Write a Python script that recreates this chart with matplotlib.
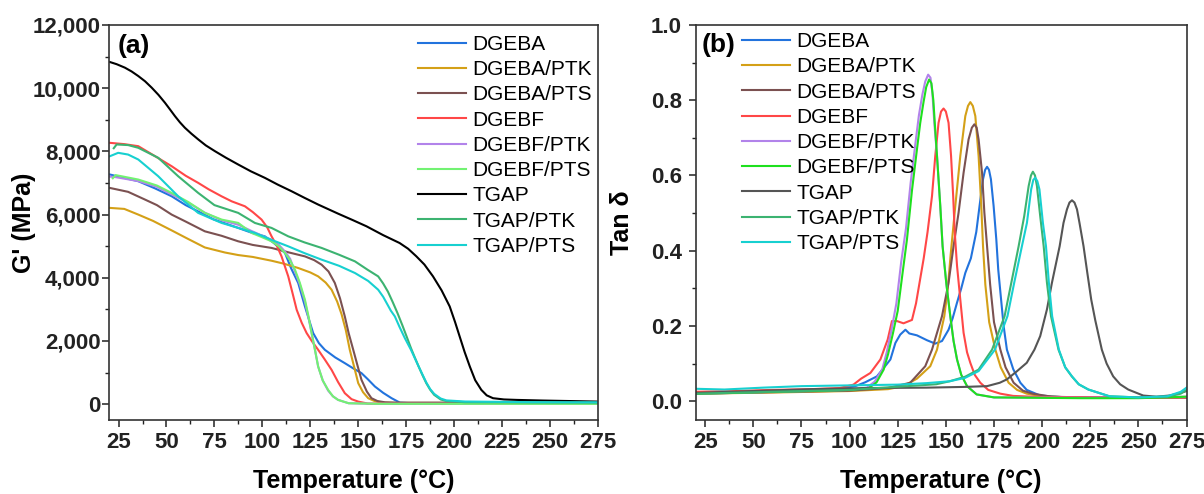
import matplotlib
matplotlib.use("Agg")
import matplotlib.pyplot as plt
from matplotlib.ticker import FuncFormatter, AutoMinorLocator
from matplotlib.font_manager import FontProperties

plt.rcParams['font.family'] = ['Liberation Sans', 'DejaVu Sans']

labels = ["DGEBA", "DGEBA/PTK", "DGEBA/PTS", "DGEBF", "DGEBF/PTK", "DGEBF/PTS",
          "TGAP", "TGAP/PTK", "TGAP/PTS"]
colors_a = ["#2273dd", "#d4a017", "#7b5151", "#ff4747", "#b283ea", "#72f272",
            "#000000", "#3cb371", "#17d0d0"]
colors_b = ["#2273dd", "#d4a017", "#7b5151", "#ff4747", "#b283ea", "#1ee01e",
            "#555555", "#3cb371", "#17d0d0"]

# ---------------- (a) storage modulus G' (MPa) ----------------
dgeba_T = [20.5, 35.3, 44, 52.7, 60, 66.5, 74.5, 87.4, 94.7, 101.3, 106, 111.8, 115, 118.7,
           122.2, 126.5, 129.5, 132.6, 138, 143, 147.5, 151.7, 155, 158.7, 163, 167.4,
           171.7, 178, 220, 275]
dgeba_G = [7268, 7056, 6830, 6580, 6300, 6100, 5850, 5578, 5420, 5312, 5100, 4785, 4300,
           3835, 3094, 2250, 1930, 1721, 1480, 1299, 1130, 983, 790, 560, 360, 190, 50, 30,
           30, 30]

dgeba_ptk_T = [20.5, 28, 35.3, 43, 52.7, 60.3, 70, 80.5, 87.4, 95, 104.8, 111, 118.7, 125,
               129.1, 133, 136.1, 139, 141.3, 143.5, 145.6, 148, 150, 152.5, 155.2, 158.5,
               162.2, 170, 220, 275]
dgeba_ptk_G = [6212, 6180, 6000, 5800, 5500, 5260, 4960, 4800, 4720, 4660, 4540, 4450, 4310,
               4170, 4045, 3850, 3623, 3250, 2850, 2350, 1721, 1150, 666, 380, 190, 100,
               50, 40, 40, 40]

dgeba_pts_T = [20.3, 30, 38.8, 45, 52.7, 60, 70, 78.7, 87.4, 95, 104.8, 114, 122.2, 127,
               130.9, 134.5, 137.8, 140.5, 143, 145, 147.4, 149.5, 151.7, 154.5, 156.9,
               160, 164, 170, 220, 275]
dgeba_pts_G = [6846, 6720, 6475, 6300, 6000, 5780, 5471, 5330, 5155, 5040, 4945, 4800,
               4678, 4560, 4415, 4200, 3835, 3350, 2778, 2250, 1721, 1250, 770, 400, 190,
               100, 60, 50, 50, 50]

dgebf_T = [20.3, 28, 35.3, 44, 52.7, 60, 66.5, 72, 78.7, 84, 90.9, 95, 99.6, 102.5, 104.8,
           107.5, 110, 113.5, 115.8, 117.9, 120.5, 123.1, 126, 129.1, 132.5, 136.1, 139.5,
           143, 146.5, 150, 155, 170, 215]
dgebf_G = [8272, 8230, 8165, 7850, 7531, 7230, 7005, 6800, 6580, 6420, 6263, 6080, 5841,
           5600, 5312, 5020, 4678, 4045, 3500, 2989, 2580, 2250, 1980, 1721, 1420, 1087,
           700, 349, 160, 82, 20, 15, 15]

dgebf_ptk_T = [20.5, 23, 35.3, 45, 52.7, 61.3, 70, 78.8, 87.4, 94.4, 100, 104.8, 108.5,
               111.8, 114.5, 117, 119.5, 122.2, 124, 125.7, 127.5, 129.1, 131.5, 134.3,
               136.8, 139.5, 145, 160, 275]
dgebf_ptk_G = [7200, 7190, 7060, 6880, 6640, 6380, 6060, 5820, 5680, 5480, 5330, 5200, 5050,
               4830, 4600, 4200, 3800, 3250, 2750, 2250, 1700, 1192, 750, 430, 250, 136,
               30, 12, 10]

dgebf_pts_T = [22, 23.5, 35.3, 45, 52.7, 61.3, 70, 78.8, 87.4, 94.4, 100, 104.8, 108.5,
               111.8, 114.5, 117, 119.5, 122.2, 124, 125.7, 127.5, 129.1, 131.5, 134.3,
               136.8, 139.5, 145, 160, 275]
dgebf_pts_G = [7150, 7250, 7109, 6920, 6686, 6400, 6054, 5841, 5737, 5420, 5280, 5155,
               5000, 4785, 4550, 4257, 3850, 3306, 2800, 2250, 1700, 1192, 750, 453, 250,
               136, 30, 12, 10]

tgap_T = [20.5, 24, 28.3, 31.8, 35.3, 38.8, 42.3, 45.8, 49.2, 51.8, 54.4, 57, 59.6, 63,
          66.6, 70.5, 75.3, 81, 87.4, 94, 101.3, 108, 115.2, 122, 129.1, 139.5, 147, 154.3,
          163, 171.6, 176, 180.3, 184.5, 189, 193.5, 197.7, 200.5, 202.9, 205.5, 208.2,
          211, 214.2, 217, 220.3, 226, 232.5, 246, 260, 275]
tgap_G = [10828, 10760, 10650, 10530, 10384, 10220, 10016, 9790, 9540, 9330, 9117, 8920,
          8748, 8560, 8377, 8190, 8006, 7800, 7585, 7370, 7163, 6950, 6740, 6530, 6318,
          6030, 5830, 5630, 5350, 5100, 4920, 4680, 4420, 4045, 3600, 3094, 2600, 2143,
          1650, 1192, 760, 453, 280, 190, 150, 136, 116, 100, 82]

tgap_ptk_T = [22.5, 24, 30, 35.3, 45.7, 56.1, 66.5, 75, 87.4, 96.1, 104.8, 113.5, 122,
              130.9, 140, 148.3, 155, 160.4, 163, 165.5, 168, 170.5, 173, 175.5, 177.5,
              179.5, 181.5, 183.5, 185.5, 187.5, 189.6, 193, 196, 205.7, 240, 275]
tgap_ptk_G = [8100, 8219, 8200, 8114, 7797, 7214, 6688, 6300, 6054, 5736, 5578, 5312,
              5120, 4945, 4730, 4520, 4250, 4045, 3820, 3560, 3230, 2880, 2500, 2100, 1775,
              1480, 1194, 920, 665, 460, 296, 150, 100, 63, 55, 50]

tgap_pts_T = [20.5, 24.8, 30, 35.3, 45.7, 56.1, 66.5, 78.7, 87.4, 96.1, 104.8, 113.5, 122,
              130.9, 140, 148.3, 155.2, 160.4, 163, 165.3, 167, 169.1, 171.5, 174.3, 177.5,
              181.5, 185.5, 187.5, 189.6, 193, 196, 205.7, 240, 275]
tgap_pts_G = [7848, 7955, 7900, 7743, 7214, 6580, 6054, 5737, 5580, 5420, 5200, 4996,
              4780, 4574, 4380, 4151, 3900, 3623, 3400, 3148, 2960, 2778, 2450, 2092, 1722,
              1194, 687, 480, 327, 180, 120, 85, 65, 60]

Ta = [dgeba_T, dgeba_ptk_T, dgeba_pts_T, dgebf_T, dgebf_ptk_T, dgebf_pts_T, tgap_T,
      tgap_ptk_T, tgap_pts_T]
Ga = [dgeba_G, dgeba_ptk_G, dgeba_pts_G, dgebf_G, dgebf_ptk_G, dgebf_pts_G, tgap_G,
      tgap_ptk_G, tgap_pts_G]

# ---------------- (b) tan delta ----------------
b_dgeba_T = [20, 40, 60, 80, 95, 103, 108, 114.2, 118, 121.2, 123.8, 126.3, 129, 131, 135,
             140.2, 144.5, 148, 151.4, 153.5, 155.8, 158, 160.1, 163, 165.8, 167.5, 169.3,
             170.4, 171.4, 172.4, 173.4, 174.8, 176.2, 177.2, 178.5, 180, 181.7, 185,
             188.7, 192, 199, 210, 240, 275]
b_dgeba_V = [0.022, 0.025, 0.028, 0.03, 0.033, 0.04, 0.05, 0.066, 0.09, 0.111, 0.155,
             0.177, 0.19, 0.18, 0.175, 0.162, 0.153, 0.16, 0.19, 0.22, 0.262, 0.3, 0.341,
             0.38, 0.45, 0.519, 0.59, 0.615, 0.623, 0.615, 0.59, 0.519, 0.43, 0.35, 0.28,
             0.2, 0.137, 0.085, 0.049, 0.03, 0.015, 0.011, 0.01, 0.01]

b_dgeba_ptk_T = [20, 60, 100, 120, 128, 135, 141.9, 145.4, 149.2, 151, 152.5, 154.9, 157.5,
                 160.1, 161.5, 162.7, 164, 165.3, 167, 168.4, 169.3, 170.5, 172.5, 175.7,
                 178.5, 182.6, 187, 192, 200, 210, 275]
b_dgeba_ptk_V = [0.02, 0.023, 0.027, 0.032, 0.04, 0.06, 0.093, 0.137, 0.226, 0.3, 0.39,
                 0.519, 0.652, 0.758, 0.785, 0.795, 0.785, 0.758, 0.652, 0.519, 0.412, 0.31,
                 0.21, 0.137, 0.09, 0.049, 0.03, 0.02, 0.013, 0.011, 0.01]

b_dgeba_pts_T = [20, 60, 100, 120, 131.5, 139.3, 142.8, 148, 151.4, 154, 156.6, 159.2,
                 161.8, 163.5, 164.8, 166, 167, 168.8, 170, 171.4, 173, 175, 178.3, 181,
                 185.2, 190, 195, 205, 220, 275]
b_dgeba_pts_V = [0.02, 0.024, 0.028, 0.035, 0.049, 0.093, 0.137, 0.226, 0.315, 0.412,
                 0.501, 0.607, 0.696, 0.727, 0.736, 0.727, 0.696, 0.607, 0.501, 0.412, 0.31,
                 0.21, 0.137, 0.09, 0.049, 0.028, 0.02, 0.012, 0.01, 0.01]

b_dgebf_T = [20, 40, 60, 80, 95, 102, 106, 110.8, 116, 119.8, 122, 124.6, 128, 132.4,
             134.5, 136.5, 138.5, 140.5, 142.8, 144.5, 146.2, 147.5, 148.8, 150, 151.4,
             152.7, 153.8, 154.6, 155.8, 157.5, 159.2, 161, 162.7, 165, 167.9, 172, 178.3,
             185, 200, 240, 275]
b_dgebf_V = [0.025, 0.027, 0.03, 0.032, 0.035, 0.044, 0.06, 0.075, 0.111, 0.164, 0.213,
             0.213, 0.207, 0.216, 0.26, 0.32, 0.38, 0.45, 0.545, 0.652, 0.74, 0.77, 0.778,
             0.77, 0.74, 0.652, 0.545, 0.45, 0.36, 0.27, 0.182, 0.13, 0.102, 0.07, 0.049,
             0.03, 0.02, 0.014, 0.011, 0.01, 0.01]

b_dgebf_ptk_T = [20, 40, 60, 80, 100, 109, 113, 117, 119.3, 121.8, 124.3, 126.8, 129.3,
                 131.7, 134.3, 136, 137.8, 139.3, 140.8, 142, 143, 144, 145.4, 147.1, 148.3,
                 150.3, 152.3, 154, 155.8, 158, 161, 166, 175, 220, 275]
b_dgebf_ptk_V = [0.02, 0.022, 0.025, 0.027, 0.03, 0.036, 0.052, 0.085, 0.13, 0.19, 0.26,
                 0.37, 0.46, 0.58, 0.69, 0.76, 0.815, 0.85, 0.868, 0.86, 0.82, 0.74, 0.652,
                 0.519, 0.412, 0.31, 0.226, 0.16, 0.111, 0.07, 0.04, 0.018, 0.01, 0.009,
                 0.012]

b_dgebf_pts_T = [20, 40, 60, 80, 100, 110, 114, 117.7, 120, 122.5, 125, 127.5, 129.8,
                 132.4, 135, 136.7, 138.4, 139.8, 141.3, 142.5, 143.5, 144.5, 145.4, 147.1,
                 148.3, 150.3, 152.3, 154, 155.8, 158, 161, 166, 175, 220, 250, 275]
b_dgebf_pts_V = [0.02, 0.022, 0.025, 0.027, 0.03, 0.035, 0.05, 0.084, 0.125, 0.18, 0.24,
                 0.34, 0.43, 0.56, 0.67, 0.74, 0.795, 0.835, 0.855, 0.845, 0.8, 0.72,
                 0.652, 0.519, 0.412, 0.31, 0.226, 0.16, 0.111, 0.07, 0.04, 0.018, 0.01,
                 0.008, 0.008, 0.012]

b_tgap_T = [20, 50, 80, 110, 140, 160, 171.4, 178, 181.7, 187, 192, 196, 199, 202.5,
            205.1, 209.1, 211.1, 212.9, 214.2, 215.5, 216.8, 218.1, 219.4, 221.5, 223.5,
            225.5, 227.6, 231, 233.5, 236.9, 240.5, 244.7, 252.5, 259.4, 266, 272, 275]
b_tgap_V = [0.022, 0.027, 0.032, 0.035, 0.036, 0.038, 0.04, 0.049, 0.058, 0.08, 0.102,
            0.137, 0.173, 0.244, 0.315, 0.412, 0.474, 0.51, 0.528, 0.534, 0.528, 0.51,
            0.474, 0.412, 0.34, 0.27, 0.215, 0.137, 0.1, 0.066, 0.045, 0.031, 0.015,
            0.012, 0.015, 0.022, 0.027]

b_tgap_ptk_T = [20, 60, 100, 130, 145, 152, 160, 167, 174, 180.5, 184, 187.8, 190.7, 193,
                194.2, 195.2, 196.3, 197.3, 199, 200.8, 202.5, 204.6, 208.5, 212, 215.4,
                219, 224, 235, 250, 265, 272, 275]
b_tgap_ptk_V = [0.02, 0.025, 0.03, 0.04, 0.045, 0.053, 0.065, 0.084, 0.137, 0.226, 0.315,
                0.412, 0.492, 0.572, 0.6, 0.61, 0.6, 0.572, 0.492, 0.412, 0.315, 0.226,
                0.137, 0.09, 0.066, 0.045, 0.031, 0.013, 0.01, 0.012, 0.02, 0.03]

b_tgap_pts_T = [20, 35, 55, 75, 100, 125, 140, 152, 160, 167, 175.5, 182, 185.5, 189.5,
                192.1, 194.3, 195.4, 196.4, 197.5, 198.6, 200.4, 202, 203.5, 205.2, 208.7,
                212, 215.5, 219, 224, 235, 250, 265, 272, 275]
b_tgap_pts_V = [0.033, 0.031, 0.036, 0.04, 0.042, 0.044, 0.048, 0.053, 0.062, 0.08, 0.137,
                0.226, 0.315, 0.412, 0.474, 0.563, 0.588, 0.594, 0.585, 0.563, 0.474, 0.412,
                0.315, 0.226, 0.137, 0.09, 0.066, 0.045, 0.031, 0.013, 0.01, 0.013, 0.025,
                0.036]

Tb = [b_dgeba_T, b_dgeba_ptk_T, b_dgeba_pts_T, b_dgebf_T, b_dgebf_ptk_T, b_dgebf_pts_T,
      b_tgap_T, b_tgap_ptk_T, b_tgap_pts_T]
Vb = [b_dgeba_V, b_dgeba_ptk_V, b_dgeba_pts_V, b_dgebf_V, b_dgebf_ptk_V, b_dgebf_pts_V,
      b_tgap_V, b_tgap_ptk_V, b_tgap_pts_V]

x_ticks = [25, 50, 75, 100, 125, 150, 175, 200, 225, 250, 275]

fig = plt.figure(figsize=(12.04, 4.94), dpi=100)
axa = fig.add_axes([0.0905, 0.1498, 0.4061, 0.7996])
axb = fig.add_axes([0.5777, 0.1498, 0.4078, 0.7996])

lw = 1.5
for T, G, c, lab in zip(Ta, Ga, colors_a, labels):
    axa.plot(T, G, color=c, lw=lw, label=lab, solid_joinstyle='round')
for T, V, c, lab in zip(Tb, Vb, colors_b, labels):
    axb.plot(T, V, color=c, lw=lw, label=lab, solid_joinstyle='round')

tick_fp = FontProperties(family='Liberation Sans', weight='bold', size=16)
lab_font = dict(family='Liberation Sans', weight='bold', size=18)

for ax in (axa, axb):
    ax.set_xlim(20, 275)
    ax.set_xticks(x_ticks)
    ax.xaxis.set_minor_locator(AutoMinorLocator(2))
    ax.tick_params(which='major', direction='out', length=5, width=1.1, top=False,
                   right=False, colors='#222222')
    ax.tick_params(which='minor', direction='out', length=3, width=1.0, top=False,
                   right=False, colors='#222222')
    for s in ax.spines.values():
        s.set_linewidth(1.2)
        s.set_color('#333333')
    ax.set_xlabel('Temperature (°C)', **lab_font)
    ax.xaxis.set_label_coords(0.5, -0.125)

axa.set_ylim(-500, 12000)
axa.set_yticks([0, 2000, 4000, 6000, 8000, 10000, 12000])
axa.yaxis.set_minor_locator(AutoMinorLocator(2))
axa.yaxis.set_major_formatter(FuncFormatter(lambda v, p: f"{int(v):,}"))
axa.set_ylabel("G' (MPa)", **lab_font)
axa.yaxis.set_label_coords(-0.149, 0.5)
axa.tick_params(axis='y', which='major', pad=1)

axb.set_ylim(-0.05, 1.0)
axb.set_yticks([0.0, 0.2, 0.4, 0.6, 0.8, 1.0])
axb.yaxis.set_minor_locator(AutoMinorLocator(2))
axb.yaxis.set_major_formatter(FuncFormatter(lambda v, p: f"{v:.1f}"))
axb.set_ylabel("Tan δ", **lab_font)
axb.yaxis.set_label_coords(-0.126, 0.5)
axb.tick_params(axis='y', which='major', pad=5)

for ax in (axa, axb):
    for t in ax.get_xticklabels() + ax.get_yticklabels():
        t.set_fontproperties(tick_fp)

axa.text(0.018, 0.947, '(a)', transform=axa.transAxes, ha='left', va='center',
         fontsize=19, fontweight='bold')
axb.text(0.012, 0.949, '(b)', transform=axb.transAxes, ha='left', va='center',
         fontsize=19, fontweight='bold')

leg_kw = dict(frameon=False, fontsize=15, handlelength=2.3, handletextpad=0.3,
              labelspacing=0.3, borderpad=0, borderaxespad=0, loc='upper left')
axa.legend(bbox_to_anchor=(0.632, 0.975), **leg_kw)
axb.legend(bbox_to_anchor=(0.0947, 0.982), **leg_kw)

fig.savefig('out.png', dpi=100)
